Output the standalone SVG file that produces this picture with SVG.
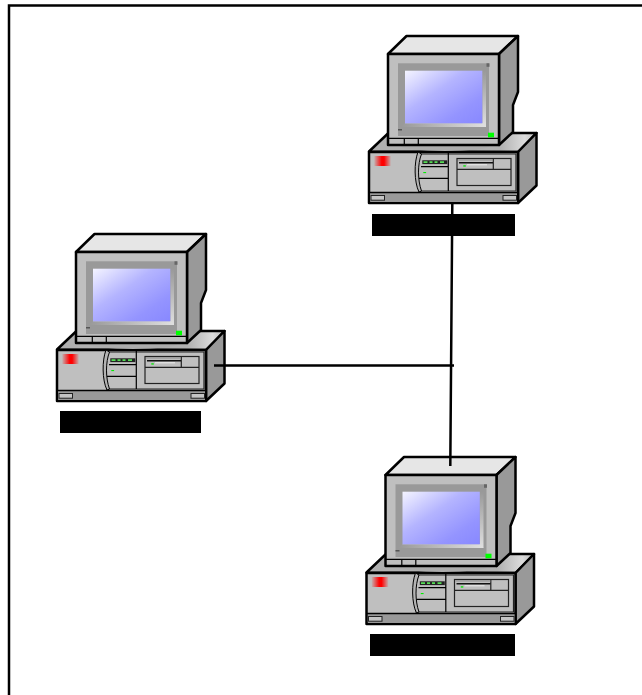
<svg xmlns="http://www.w3.org/2000/svg" width="642" height="695" viewBox="0 0 642 695">
<style>
.k{stroke:#000;stroke-linejoin:round}
.o{stroke-width:2.500}
.t{stroke-width:1.200}
.w{fill:none;stroke:#000;stroke-width:2.500}
.d{fill:none;stroke:#222;stroke-width:1.200}
</style>
<defs>
<linearGradient id="scr" x1="0" y1="0" x2="1" y2="1"><stop offset="0" stop-color="#f4f4ff"/><stop offset=".4" stop-color="#b4b4ff"/><stop offset=".75" stop-color="#9494ff"/><stop offset="1" stop-color="#8888ff"/></linearGradient>
<linearGradient id="bh" x1="0" y1="0" x2="1" y2="0"><stop offset="0" stop-color="#999"/><stop offset="1" stop-color="#e0e0e0"/></linearGradient>
<linearGradient id="bv" x1="0" y1="0" x2="0" y2="1"><stop offset="0" stop-color="#999"/><stop offset="1" stop-color="#e0e0e0"/></linearGradient>
<linearGradient id="red" x1="0" y1="0" x2="1" y2="0"><stop offset="0" stop-color="#f00" stop-opacity=".1"/><stop offset=".45" stop-color="#f00"/><stop offset=".6" stop-color="#f00"/><stop offset="1" stop-color="#f00" stop-opacity=".1"/></linearGradient>
<linearGradient id="top" x1="0" y1="0" x2="1" y2="0"><stop offset=".78" stop-color="#b0b0b0"/><stop offset=".93" stop-color="#dcdcdc"/><stop offset="1" stop-color="#b8b8b8"/></linearGradient>
<g id="pc">
<path class="k o" fill="url(#top)" d="M369 151.500 388.500 133H536.500L518 152Z"/>
<path class="k o" fill="#999" d="M536.500 133V185.500L518 203V152Z"/>
<rect class="k o" x="369" y="152" width="149" height="51" fill="#bfbfbf"/>
<rect x="370.500" y="192.500" width="146.500" height="9.500" fill="#999"/>
<path d="M369 192.500H518" class="k" stroke-width="1.500" fill="none"/>
<rect x="371" y="195.500" width="13.500" height="4.700" fill="#c4c4c4" stroke="#222"/>
<rect x="503" y="195.500" width="13.500" height="4.700" fill="#c4c4c4" stroke="#222"/>
<path class="d" d="M418 154H516V191H418"/>
<path class="k" fill="#b3b3b3" stroke-width="1" d="M418 152C414 162 414 182 419 192L421.500 191C417.500 180 417.500 164 421.500 154Z"/>
<path class="k t" fill="none" d="M448.300 153V191M421 166.700H448M419 178.300H448"/>
<rect x="422.300" y="160.300" width="25" height="3.800" fill="#222"/>
<path d="M423.500 161.300h4v1.800h-4zM429.500 161.300h3v1.800h-3zM434.500 161.300h3v1.800h-3zM440 161.300h4v1.800h-4z" fill="#5d5"/>
<rect x="423.300" y="172" width="2.800" height="1.100" fill="#0e0"/>
<rect x="457" y="158.500" width="54" height="27" class="d"/>
<path class="d" d="M457 169.300H511M493.300 158.500V169.300"/>
<path d="M459 162.700H493" stroke="#111" stroke-width="1.600"/>
<path d="M458 160H493" stroke="#8f8f8f"/>
<path d="M467 164.800H487" stroke="#eee"/>
<rect x="463.300" y="165" width="2.500" height="1.800" fill="#3d3"/>
<rect x="374.300" y="156" width="16.400" height="10" fill="url(#red)"/>
<ellipse cx="445" cy="146" rx="44" ry="5" fill="#acacac"/>
<path class="k o" fill="#e6e6e6" d="M388 54 406.500 36H518L499 54Z"/>
<path class="k o" fill="#999" d="M518 36V92L513 105V132L499 145V54Z"/>
<rect class="k o" x="388" y="54" width="111" height="91" fill="#bfbfbf"/>
<rect x="398" y="63.300" width="91" height="72.700" fill="#999"/>
<path d="M482.300 70.700H486V127H405V123.300H482.300Z" fill="url(#bv)"/>
<path d="M405 123.300H482.300L486 127H401Z" fill="url(#bh)"/>
<rect x="405" y="70.700" width="77.300" height="52.600" fill="url(#scr)"/>
<rect x="486.500" y="63.300" width="3" height="3.500" fill="#666"/>
<rect x="398" y="129" width="4" height="1.500" fill="#555"/>
<rect x="488" y="132.700" width="6" height="4.600" fill="#0f0"/>
<path class="k t" fill="none" d="M388 138.300H499M404.300 138.300V145M418.300 138.300V145"/>
</g>
</defs>
<rect id="frame" class="w" x="9" y="5.500" width="660" height="720"/>
<g id="node-top"><use href="#pc"/><rect x="372" y="214" width="143" height="22"/></g>
<g id="node-left"><use href="#pc" x="-312" y="198"/><rect x="60" y="411" width="141" height="22"/></g>
<g id="node-bottom"><use href="#pc" x="-2.500" y="421"/><rect x="370" y="634" width="145" height="22"/></g>
<g id="connectors"><path class="w" d="M452.300 204 450.300 466M214 365.500H454"/></g>
</svg>
